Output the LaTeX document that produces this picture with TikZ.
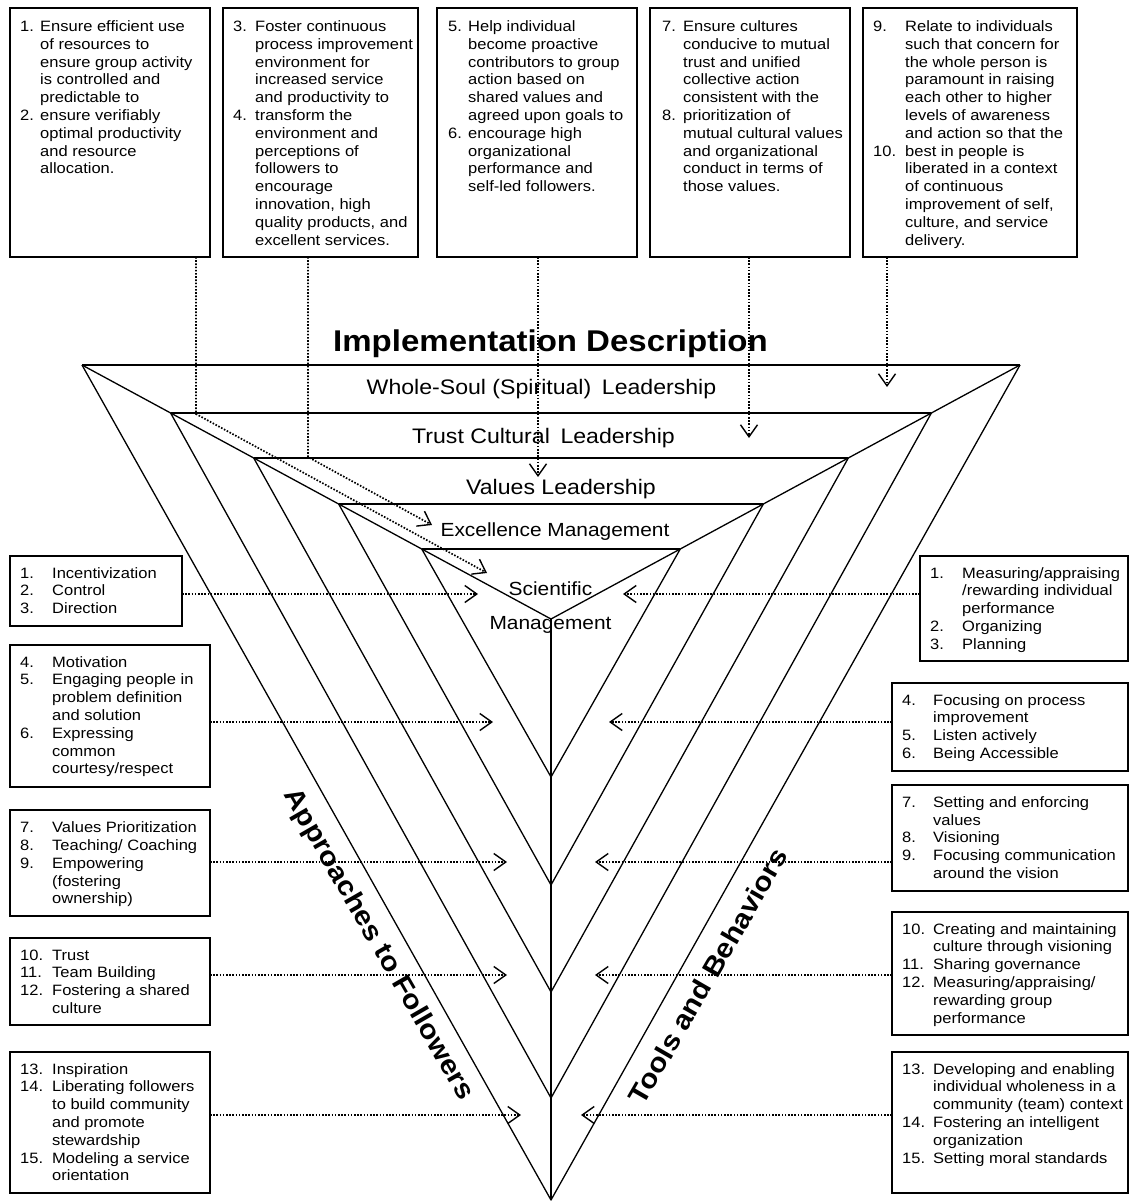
\documentclass[tikz,border=0pt]{standalone}
\usepackage{fontspec}
\setmainfont[FakeStretch=1.1]{Liberation Sans}
\usetikzlibrary{arrows.meta,calc}
\newcommand\mylst[2]{\begin{tabular}[t]{@{}p{#1pt}@{}l@{}}#2\end{tabular}}
\newcommand\mkbox[5]{\node[box, minimum width={#4-#2}, minimum height={#5-#3}] (#1) at ({(#2+#4)/2},{(#3+#5)/2}) {};}
\begin{document}
\begin{tikzpicture}[x=1pt,y=-1pt,
  box/.style={draw, line width=1.6pt, inner sep=0pt, outer sep=0pt},
  lst/.style={inner sep=0pt, anchor=base west, font=\fontsize{15}{17.8}\selectfont},
  tri/.style={line width=1.3pt, line join=round},
  band/.style={inner sep=0pt, anchor=base, font=\fontsize{21}{25}\selectfont},
  bandsm/.style={inner sep=0pt, anchor=base, font=\fontsize{19}{23}\selectfont},
  rotlab/.style={inner sep=0pt, font=\bfseries\fontsize{27}{32}\selectfont},
  dotarrow/.style={line width=1.7pt, dash pattern=on 1.6pt off 1.6pt,
    -{Straight Barb[length=12pt,width=17pt,line width=1.4pt]}}]
\path[fill=white, use as bounding box] (0,0) rectangle (1130,1201);

% ---------------- top boxes ----------------
\mkbox{T1}{10}{8}{210}{257}
\mkbox{T2}{223}{8}{418}{257}
\mkbox{T3}{437}{8}{637}{257}
\mkbox{T4}{650}{8}{850}{257}
\mkbox{T5}{863}{8}{1077}{257}

\node[lst] (T1t) at (20,31.5) {\mylst{20}{1.&Ensure efficient use\\ &of resources to\\ &ensure group activity\\ &is controlled and\\ &predictable to\\ 2.&ensure verifiably\\ &optimal productivity\\ &and resource\\ &allocation.}};
\node[lst] (T2t) at (233,31.5) {\mylst{22}{3.&Foster continuous\\ &process improvement\\ &environment for\\ &increased service\\ &and productivity to\\ 4.&transform the\\ &environment and\\ &perceptions of\\ &followers to\\ &encourage\\ &innovation, high\\ &quality products, and\\ &excellent services.}};
\node[lst] (T3t) at (448,31.5) {\mylst{20}{5.&Help individual\\ &become proactive\\ &contributors to group\\ &action based on\\ &shared values and\\ &agreed upon goals to\\ 6.&encourage high\\ &organizational\\ &performance and\\ &self-led followers.}};
\node[lst] (T4t) at (662,31.5) {\mylst{21}{7.&Ensure cultures\\ &conducive to mutual\\ &trust and unified\\ &collective action\\ &consistent with the\\ 8.&prioritization of\\ &mutual cultural values\\ &and organizational\\ &conduct in terms of\\ &those values.}};
\node[lst] (T5t) at (873,31.5) {\mylst{32}{9.&Relate to individuals\\ &such that concern for\\ &the whole person is\\ &paramount in raising\\ &each other to higher\\ &levels of awareness\\ &and action so that the\\ 10.&best in people is\\ &liberated in a context\\ &of continuous\\ &improvement of self,\\ &culture, and service\\ &delivery.}};

% ---------------- left boxes ----------------
\mkbox{L1}{10}{556}{182}{626}
\mkbox{L2}{10}{645}{210}{787}
\mkbox{L3}{10}{810}{210}{916}
\mkbox{L4}{10}{938}{210}{1025}
\mkbox{L5}{10}{1052}{210}{1193}

\node[lst] (L1t) at (20,578) {\mylst{32}{1.&Incentivization\\ 2.&Control\\ 3.&Direction}};
\node[lst] (L2t) at (20,667) {\mylst{32}{4.&Motivation\\ 5.&Engaging people in\\ &problem definition\\ &and solution\\ 6.&Expressing\\ &common\\ &courtesy/respect}};
\node[lst] (L3t) at (20,832.7) {\mylst{32}{7.&Values Prioritization\\ 8.&Teaching/ Coaching\\ 9.&Empowering\\ &(fostering\\ &ownership)}};
\node[lst] (L4t) at (20,960) {\mylst{32}{10.&Trust\\ 11.&Team Building\\ 12.&Fostering a shared\\ &culture}};
\node[lst] (L5t) at (20,1074) {\mylst{32}{13.&Inspiration\\ 14.&Liberating followers\\ &to build community\\ &and promote\\ &stewardship\\ 15.&Modeling a service\\ &orientation}};

% ---------------- right boxes ----------------
\mkbox{R1}{920}{556}{1128}{661}
\mkbox{R2}{892}{683}{1128}{771}
\mkbox{R3}{892}{785}{1128}{891}
\mkbox{R4}{892}{912}{1128}{1035}
\mkbox{R5}{892}{1052}{1128}{1193}

\node[lst] (R1t) at (930,578) {\mylst{32}{1.&Measuring/appraising\\ &/rewarding individual\\ &performance\\ 2.&Organizing\\ 3.&Planning}};
\node[lst] (R2t) at (902,705) {\mylst{31}{4.&Focusing on process\\ &improvement\\ 5.&Listen actively\\ 6.&Being Accessible}};
\node[lst] (R3t) at (902,807.3) {\mylst{31}{7.&Setting and enforcing\\ &values\\ 8.&Visioning\\ 9.&Focusing communication\\ &around the vision}};
\node[lst] (R4t) at (902,934) {\mylst{31}{10.&Creating and maintaining\\ &culture through visioning\\ 11.&Sharing governance\\ 12.&Measuring/appraising/\\ &rewarding group\\ &performance}};
\node[lst] (R5t) at (902,1074) {\mylst{31}{13.&Developing and enabling\\ &individual wholeness in a\\ &community (team) context\\ 14.&Fostering an intelligent\\ &organization\\ 15.&Setting moral standards}};

% ---------------- triangle ----------------
\coordinate (A) at (82,365);
\coordinate (B) at (1020,365);
\coordinate (C) at (551,619);
\coordinate (D) at (551,1200);
\coordinate (P1) at ($(A)!{48/254}!(C)$);  \coordinate (Q1) at ($(B)!{48/254}!(C)$);
\coordinate (P2) at ($(A)!{93/254}!(C)$);  \coordinate (Q2) at ($(B)!{93/254}!(C)$);
\coordinate (P3) at ($(A)!{139/254}!(C)$); \coordinate (Q3) at ($(B)!{139/254}!(C)$);
\coordinate (P4) at ($(A)!{184/254}!(C)$); \coordinate (Q4) at ($(B)!{184/254}!(C)$);
\coordinate (V1) at (551,1098);
\coordinate (V2) at (551,992);
\coordinate (V3) at (551,885);
\coordinate (V4) at (551,777);

\draw[tri] (A) -- (B);
\draw[tri] (A) -- (C) -- (B);
\draw[tri] (P1) -- (Q1);
\draw[tri] (P2) -- (Q2);
\draw[tri] (P3) -- (Q3);
\draw[tri] (P4) -- (Q4);
\draw[tri] (A) -- (D) -- (B);
\draw[tri] (P1) -- (V1) -- (Q1);
\draw[tri] (P2) -- (V2) -- (Q2);
\draw[tri] (P3) -- (V3) -- (Q3);
\draw[tri] (P4) -- (V4) -- (Q4);
\draw[tri] (C) -- (D);

% ---------------- labels ----------------
\node[inner sep=0pt, anchor=base, font=\bfseries\fontsize{30}{36}\selectfont] (title) at (550.5,351) {Implementation Description};
\node[band] (ws) at (541.5,394) {Whole-Soul (Spiritual)\hspace{0.2em} Leadership};
\node[band] (tc) at (543.5,443.3) {Trust Cultural\hspace{0.2em} Leadership};
\node[band] (vl) at (561,494.3) {Values Leadership};
\node[bandsm] (em) at (555,536) {Excellence Management};
\node[bandsm] (sm1) at (550.5,595) {Scientific};
\node[bandsm] (sm2) at (550.5,629) {Management};
\node[rotlab, rotate=-60] (apf) at (378,945) {Approaches to Followers};
\node[rotlab, rotate=60] (tab) at (708,976) {Tools and Behaviors};

% ---------------- top connectors ----------------
\coordinate (k1) at (196,414);   \coordinate (e1) at (487,573);
\coordinate (k2) at (308,457);   \coordinate (e2) at (432,525);
\coordinate (e3) at (538,477);
\coordinate (e4) at (749,438);
\coordinate (e5) at (887,387);
\draw[dotarrow] (T1.south -| k1) -- (k1) -- (e1);
\draw[dotarrow] (T2.south -| k2) -- (k2) -- (e2);
\draw[dotarrow] (T3.south -| e3) -- (e3);
\draw[dotarrow] (T4.south -| e4) -- (e4);
\draw[dotarrow] (T5.south -| e5) -- (e5);

% ---------------- side connectors ----------------
\coordinate (a1) at (478,594);  \coordinate (b1) at (623,594);
\coordinate (a2) at (493,722);  \coordinate (b2) at (609,722);
\coordinate (a3) at (507,862);  \coordinate (b3) at (595,862);
\coordinate (a4) at (507,975);  \coordinate (b4) at (595,975);
\coordinate (a5) at (521,1115); \coordinate (b5) at (581,1115);
\draw[dotarrow] (L1.east |- a1) -- (a1);
\draw[dotarrow] (L2.east |- a2) -- (a2);
\draw[dotarrow] (L3.east |- a3) -- (a3);
\draw[dotarrow] (L4.east |- a4) -- (a4);
\draw[dotarrow] (L5.east |- a5) -- (a5);
\draw[dotarrow] (R1.west |- b1) -- (b1);
\draw[dotarrow] (R2.west |- b2) -- (b2);
\draw[dotarrow] (R3.west |- b3) -- (b3);
\draw[dotarrow] (R4.west |- b4) -- (b4);
\draw[dotarrow] (R5.west |- b5) -- (b5);
\end{tikzpicture}
\end{document}
